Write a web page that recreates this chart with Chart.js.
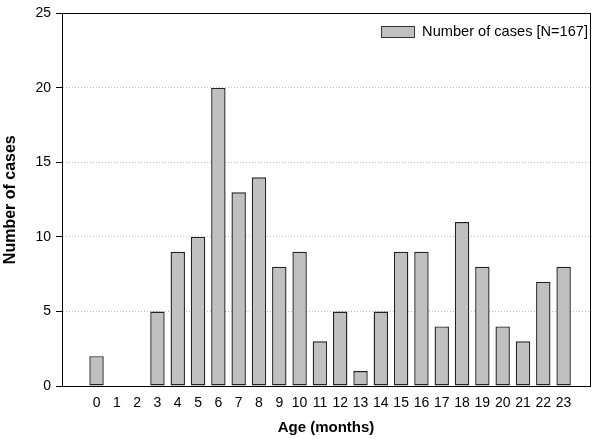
<!DOCTYPE html>
<html lang="en">
<head>
  <meta charset="UTF-8" />
  <title>Number of cases by age</title>
  <script src="https://cdn.jsdelivr.net/npm/chart.js"></script>
  <style>
    html, body { margin: 0; padding: 0; background: #fff; }
    #wrap { width: 600px; height: 439px; }
  </style>
</head>
<body>
  <div id="wrap"><canvas id="casesChart" width="600" height="439"></canvas></div>

  <script>
    const ages = [0, 1, 2, 3, 4, 5, 6, 7, 8, 9, 10, 11, 12, 13, 14, 15, 16, 17, 18, 19, 20, 21, 22, 23];
    const cases = [2, 0, 0, 5, 9, 10, 20, 13, 14, 8, 9, 3, 5, 1, 5, 9, 9, 4, 11, 8, 4, 3, 7, 8];
    const seriesLabel = 'Number of cases [N=167]';
    const yTicks = [0, 5, 10, 15, 20, 25];

    const font = 'Liberation Sans, Arial, sans-serif';

    // box around the plot + legend inside the top right corner
    const frameAndLegend = {
      id: 'frameAndLegend',
      afterDraw(chart) {
        const { ctx, chartArea } = chart;
        ctx.save();
        ctx.strokeStyle = '#000';
        ctx.lineWidth = 1;
        ctx.strokeRect(Math.round(chartArea.left) + 0.5, Math.round(chartArea.top) + 0.5,
          Math.round(chartArea.right - chartArea.left), Math.round(chartArea.bottom - chartArea.top));

        ctx.font = '14.6px ' + font;
        ctx.fillStyle = '#000';
        ctx.textBaseline = 'middle';
        const label = chart.data.datasets[0].label;
        const tw = ctx.measureText(label).width;
        const tx = chartArea.right - 2 - tw;
        const ty = chartArea.top + 18.5;
        ctx.fillText(label, tx, ty);
        ctx.fillStyle = '#c0c0c0';
        ctx.fillRect(tx - 41, ty - 5.5, 33, 11);
        ctx.strokeStyle = '#333';
        ctx.strokeRect(Math.round(tx - 41) + 0.5, Math.round(ty - 5.5) + 0.5, 33, 11);
        ctx.restore();
      }
    };

    new Chart(document.getElementById('casesChart'), {
      type: 'bar',
      data: {
        datasets: [{
          label: seriesLabel,
          data: ages.map((a, i) => ({ x: a, y: cases[i] })),
          backgroundColor: '#c0c0c0',
          borderColor: '#222',
          borderWidth: 1.4,
          borderSkipped: false,
          barPercentage: 0.71,
          categoryPercentage: 1
        }]
      },
      plugins: [frameAndLegend],
      options: {
        responsive: false,
        animation: false,
        layout: { padding: { top: 10, right: 10, bottom: 0, left: 0 } },
        scales: {
          x: {
            type: 'linear',
            offset: false,
            min: -1.7,
            max: 24.3,
            afterFit: (s) => { s.height = 53; },
            afterBuildTicks: (s) => { s.ticks = ages.map(v => ({ value: v })); },
            grid: { display: false, drawTicks: false, offset: false },
            border: { display: true, color: '#000', width: 1 },
            ticks: {
              autoSkip: false,
              maxRotation: 0,
              minRotation: 0,
              padding: 9,
              color: '#000',
              font: { family: font, size: 14 },
              callback: (v) => String(v)
            },
            title: {
              display: true,
              text: 'Age (months)',
              color: '#000',
              font: { family: font, size: 15, weight: 'bold' },
              padding: { top: 0, bottom: 2 }
            }
          },
          y: {
            min: 0,
            max: 25,
            afterFit: (s) => { s.width = 62; },
            afterBuildTicks: (s) => { s.ticks = yTicks.map(v => ({ value: v })); },
            grid: {
              color: (c) => (c.tick && (c.tick.value === 0 || c.tick.value === 25)) ? 'rgba(0,0,0,0)' : '#bdbdbd',
              tickColor: '#000',
              tickLength: 6,
              tickWidth: 1
            },
            border: { display: true, color: '#000', width: 1, dash: [1, 2] },
            ticks: {
              padding: 5,
              color: '#000',
              font: { family: font, size: 14 }
            },
            title: {
              display: true,
              text: 'Number of cases',
              color: '#000',
              font: { family: font, size: 16, weight: 'bold' },
              padding: { top: 1, bottom: 4 }
            }
          }
        },
        plugins: {
          legend: { display: false },
          tooltip: { enabled: false }
        }
      }
    });
  </script>
</body>
</html>
